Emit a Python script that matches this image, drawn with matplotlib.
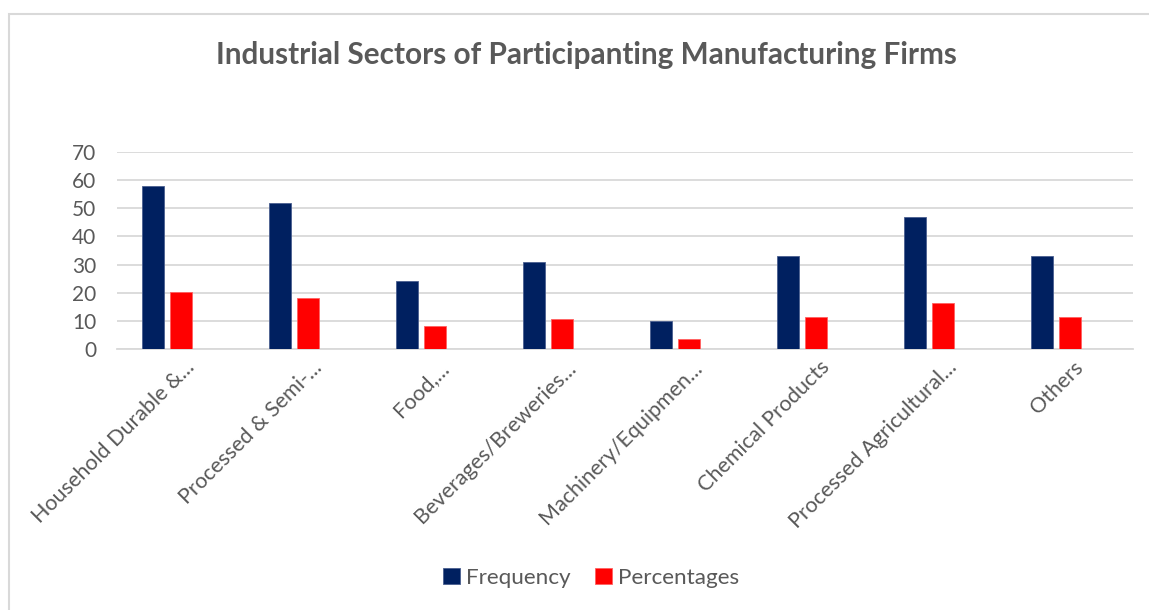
import matplotlib
matplotlib.use("Agg")
import matplotlib.pyplot as plt
import numpy as np
from matplotlib.patches import Rectangle
from matplotlib.transforms import ScaledTranslation

categories = ["Household Durable &...", "Processed & Semi-...", "Food,...",
              "Beverages/Breweries...", "Machinery/Equipmen...", "Chemical Products",
              "Processed Agricultural...", "Others"]
frequency = [58, 52, 24, 31, 10, 33, 47, 33]
percentages = [20.1, 18.1, 8.3, 10.8, 3.5, 11.5, 16.3, 11.5]
yticks = [0, 10, 20, 30, 40, 50, 60, 70]

NAVY = "#002060"
RED = "#FF0000"
TXT = "#595959"
GRID = "#D9D9D9"

plt.rcParams['font.family'] = ['Lato', 'DejaVu Sans']

fig = plt.figure(figsize=(11.49, 6.10), dpi=100)
ax = fig.add_axes([117/1149, 1-349/610, (1133-117)/1149, (349-152)/610])

x = np.arange(len(categories))
w = 0.173
ax.bar(x - 0.22, frequency, width=w, color=NAVY, label="Frequency", zorder=3,
       edgecolor="#4A5F8F", linewidth=0.6)
ax.bar(x + 0.005, percentages, width=w, color=RED, label="Percentages", zorder=3,
       edgecolor="#FF6060", linewidth=0.6)

ax.set_xlim(-0.5, len(categories) - 0.5)
ax.set_ylim(0, 70)
ax.set_yticks(yticks)
ax.yaxis.grid(True, color=GRID, linewidth=1.3, zorder=0)
ax.set_axisbelow(True)
for s in ["top", "right", "left"]:
    ax.spines[s].set_visible(False)
ax.spines["bottom"].set_color(GRID)
ax.spines["bottom"].set_linewidth(1.3)
ax.tick_params(axis="y", length=0, labelsize=15, colors=TXT, pad=15)
ax.tick_params(axis="x", length=0, labelsize=15.5, colors=TXT, pad=6)
ax.set_xticks(x)
ax.set_xticklabels(categories, rotation=45, ha="right", rotation_mode="anchor")
for lab in ax.get_xticklabels():
    lab.set_transform(lab.get_transform() + ScaledTranslation(0.04, 0, fig.dpi_scale_trans))

fig.text(586/1149, 1-55/610, "Industrial Sectors of Participanting Manufacturing Firms",
         ha="center", va="center", fontsize=21.4, fontweight="bold", color=TXT)

leg = fig.legend(loc="center", bbox_to_anchor=(591/1149, 1-578/610), ncol=2, frameon=False,
                 fontsize=16.2, handlelength=0.75, handleheight=0.75, columnspacing=1.1,
                 handletextpad=0.25, labelcolor=TXT)

fig.add_artist(Rectangle((9/1149, -0.1), 1.2, 1-14/610+0.1, transform=fig.transFigure,
                         fill=False, edgecolor=GRID, linewidth=1.5))

fig.savefig("out.png", dpi=100)
